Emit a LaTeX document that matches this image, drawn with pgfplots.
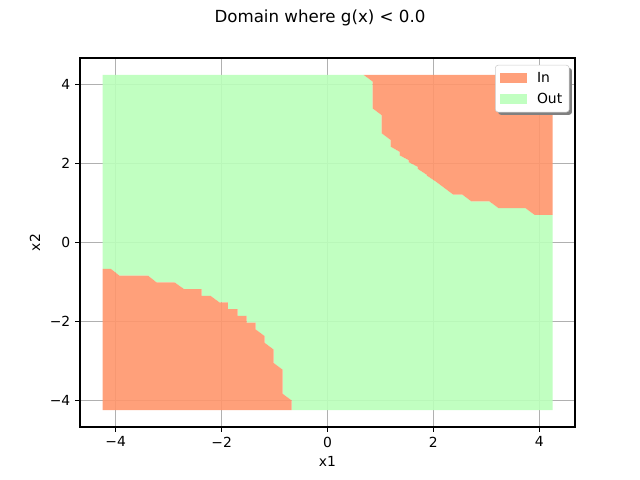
\documentclass[border=0pt]{standalone}
\usepackage{fontspec}
\setmainfont{DejaVu Sans}
\usepackage{pgfplots}
\pgfplotsset{compat=1.18}
\usetikzlibrary{shadows}
\definecolor{inred}{RGB}{255,150,108}
\definecolor{outgreen}{RGB}{186,255,186}
\definecolor{gridgray}{HTML}{B0B0B0}
\begin{document}
\begin{tikzpicture}
\useasboundingbox (-57.6pt,-38.16pt) rectangle (403.2pt,307.44pt);
\begin{axis}[
  at={(0pt,0pt)}, anchor=south west,
  scale only axis, width=356.4pt, height=265.68pt,
  xmin=-4.675, xmax=4.675, ymin=-4.675, ymax=4.675,
  xtick={-4,-2,0,2,4}, ytick={-4,-2,0,2,4},
  xticklabels={−4,−2,0,2,4}, yticklabels={−4,−2,0,2,4},
  xtick pos=bottom, ytick pos=left,
  tick align=outside, major tick length=3.5pt,
  tick style={black, line width=0.8pt},
  axis line style={line width=0.8pt},
  grid=major, major grid style={gridgray, line width=0.8pt},
  xlabel={x1}, ylabel={x2},
  label style={font=\fontsize{10}{12}\selectfont},
  tick label style={font=\fontsize{10}{12}\selectfont},
  /pgf/number format/assume math mode=true,
  legend cell align=left,
  legend style={at={(1,1)}, anchor=north east, xshift=-4pt, yshift=-5pt,
    draw=black!20, fill=white, rounded corners=2pt,
    font=\fontsize{10}{12}\selectfont,
    drop shadow={shadow xshift=2pt, shadow yshift=-2pt, fill=black!50, opacity=1},
    inner xsep=3pt, inner ysep=3pt, row sep=2pt, column sep=5pt},
]
% Out region
\addplot[fill=outgreen, fill opacity=0.9, draw=none, forget plot] coordinates {
  (-4.25,-0.67) (-4.25,4.25)
  (0.68,4.25) (0.85,4.08) (0.85,3.40) (1.02,3.23) (1.02,2.77)
  (1.19,2.60) (1.19,2.43) (1.36,2.30) (1.36,2.21) (1.53,2.09)
  (1.53,2.04) (1.70,1.92) (1.70,1.87) (1.87,1.72) (1.87,1.70)
  (2.04,1.55) (2.21,1.38) (2.38,1.21) (2.55,1.21) (2.72,1.04)
  (3.06,1.04) (3.23,0.87) (3.74,0.87) (3.91,0.70) (4.25,0.70)
  (4.25,-4.25)
  (-0.68,-4.25) (-0.68,-4.00) (-0.85,-3.83) (-0.85,-3.22) (-1.02,-3.05)
  (-1.02,-2.71) (-1.19,-2.54) (-1.19,-2.37) (-1.36,-2.20) (-1.36,-2.03)
  (-1.53,-2.03) (-1.53,-1.86) (-1.70,-1.86) (-1.70,-1.69) (-1.88,-1.69)
  (-1.88,-1.52) (-2.04,-1.52) (-2.21,-1.35) (-2.38,-1.35) (-2.38,-1.18)
  (-2.71,-1.18) (-2.89,-1.01) (-3.23,-1.01) (-3.39,-0.84) (-3.93,-0.84)
  (-4.09,-0.67)
} -- cycle;
% In, upper right part
\addplot[fill=inred, fill opacity=0.9, draw=none, forget plot] coordinates {
  (0.68,4.25) (0.85,4.08) (0.85,3.40) (1.02,3.23) (1.02,2.77)
  (1.19,2.60) (1.19,2.43) (1.36,2.30) (1.36,2.21) (1.53,2.09)
  (1.53,2.04) (1.70,1.92) (1.70,1.87) (1.87,1.72) (1.87,1.70)
  (2.04,1.55) (2.21,1.38) (2.38,1.21) (2.55,1.21) (2.72,1.04)
  (3.06,1.04) (3.23,0.87) (3.74,0.87) (3.91,0.70) (4.25,0.70)
  (4.25,4.25)
} -- cycle;
% In, lower left part
\addplot[fill=inred, fill opacity=0.9, draw=none, forget plot] coordinates {
  (-4.25,-4.25) (-4.25,-0.67) (-4.09,-0.67) (-3.93,-0.84) (-3.39,-0.84)
  (-3.23,-1.01) (-2.89,-1.01) (-2.71,-1.18) (-2.38,-1.18) (-2.38,-1.35)
  (-2.21,-1.35) (-2.04,-1.52) (-1.88,-1.52) (-1.88,-1.69) (-1.70,-1.69)
  (-1.70,-1.86) (-1.53,-1.86) (-1.53,-2.03) (-1.36,-2.03) (-1.36,-2.20)
  (-1.19,-2.37) (-1.19,-2.54) (-1.02,-2.71) (-1.02,-3.05) (-0.85,-3.22)
  (-0.85,-3.83) (-0.68,-4.00) (-0.68,-4.25)
} -- cycle;
\addlegendimage{legend image code/.code={%
  \pgfsetfillcolor{inred!90!white}\pgfsetcornersarced{\pgfpointorigin}%
  \pgfpathrectangle{\pgfpoint{0pt}{-3.5pt}}{\pgfpoint{20pt}{7pt}}\pgfusepath{fill}}}
\addlegendentry{In}
\addlegendimage{legend image code/.code={%
  \pgfsetfillcolor{outgreen!90!white}\pgfsetcornersarced{\pgfpointorigin}%
  \pgfpathrectangle{\pgfpoint{0pt}{-3.5pt}}{\pgfpoint{20pt}{7pt}}\pgfusepath{fill}}}
\addlegendentry{Out}
\end{axis}
\node[anchor=north, inner sep=0pt, font=\fontsize{12}{14.4}\selectfont]
  at (172.8pt,300.5pt) {Domain where g(x) < 0.0};
\end{tikzpicture}
\end{document}
